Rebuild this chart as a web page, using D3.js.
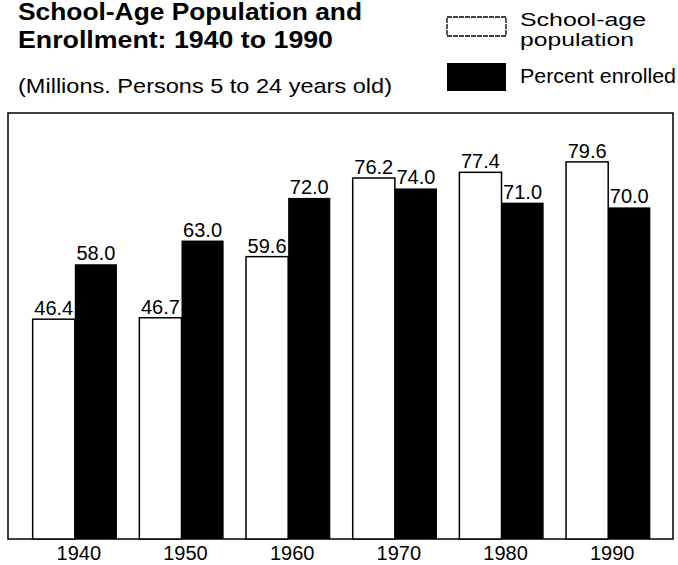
<!DOCTYPE html>
<html>
<head>
<meta charset="utf-8">
<script src="https://cdn.jsdelivr.net/npm/d3@7"></script>
<style>
body { margin: 0; background: #fff; }
svg { font-family: "Liberation Sans", Arial, Helvetica, sans-serif; }
</style>
</head>
<body>
<div id="c"></div>
<script>
var years = ['1940', '1950', '1960', '1970', '1980', '1990'];
var population = [46.4, 46.7, 59.6, 76.2, 77.4, 79.6];
var enrolled = [58.0, 63.0, 72.0, 74.0, 71.0, 70.0];
var series = ['population', 'enrolled'];

var width = 678;
var height = 565;

var frame_left = 8, frame_right = 673, frame_top = 113, base_y = 539;

var svg = d3.select('#c').append('svg')
	.attr('width', width)
	.attr('height', height);

var x_scale = d3.scaleBand()
	.domain(years)
	.range([22, 661])
	.paddingInner(0.21)
	.paddingOuter(0.1);

var x_inner = d3.scaleBand()
	.domain(series)
	.range([0, x_scale.bandwidth()]);

var y_scale = d3.scaleLinear()
	.domain([0, 80])
	.range([base_y, 160]);

// title block
svg.append('text')
	.attr('x', 18).attr('y', 20)
	.attr('font-size', 23).attr('font-weight', 'bold')
	.attr('textLength', 344).attr('lengthAdjust', 'spacingAndGlyphs')
	.text('School-Age Population and');

svg.append('text')
	.attr('x', 18).attr('y', 48)
	.attr('font-size', 23).attr('font-weight', 'bold')
	.attr('textLength', 315).attr('lengthAdjust', 'spacingAndGlyphs')
	.text('Enrollment:  1940 to 1990');

svg.append('text')
	.attr('x', 18).attr('y', 93)
	.attr('font-size', 21)
	.attr('textLength', 374).attr('lengthAdjust', 'spacingAndGlyphs')
	.text('(Millions. Persons 5 to 24 years old)');

// legend
var legend = svg.append('g');
legend.append('rect')
	.attr('x', 447).attr('y', 17).attr('width', 59).attr('height', 19)
	.attr('fill', '#fff').attr('stroke', '#000').attr('stroke-width', 1.3)
	.attr('stroke-dasharray', '5,1');
legend.append('rect')
	.attr('x', 447).attr('y', 63).attr('width', 59).attr('height', 28)
	.attr('fill', '#000');
legend.append('text').attr('x', 520).attr('y', 26).attr('font-size', 18)
	.attr('textLength', 126).attr('lengthAdjust', 'spacingAndGlyphs')
	.text('School-age');
legend.append('text').attr('x', 520).attr('y', 46).attr('font-size', 18)
	.attr('textLength', 114).attr('lengthAdjust', 'spacingAndGlyphs')
	.text('population');
legend.append('text').attr('x', 520).attr('y', 83).attr('font-size', 20)
	.attr('textLength', 156).attr('lengthAdjust', 'spacingAndGlyphs')
	.text('Percent enrolled');

// frame
svg.append('rect')
	.attr('x', frame_left).attr('y', frame_top)
	.attr('width', frame_right - frame_left)
	.attr('height', base_y - frame_top)
	.attr('fill', 'none').attr('stroke', '#000').attr('stroke-width', 1.5);

var rows = years.map(function(y, i) {
	return { year: y, population: population[i], enrolled: enrolled[i] };
});

var groups = svg.selectAll('.grp')
	.data(rows)
	.enter()
	.append('g')
	.attr('class', 'grp')
	.attr('transform', function(d) { return 'translate(' + x_scale(d.year) + ',0)'; });

groups.selectAll('rect')
	.data(function(d) { return series.map(function(s) { return { key: s, value: d[s] }; }); })
	.enter()
	.append('rect')
	.attr('x', function(d) { return x_inner(d.key); })
	.attr('y', function(d) { return y_scale(d.value); })
	.attr('width', x_inner.bandwidth())
	.attr('height', function(d) { return y_scale(0) - y_scale(d.value); })
	.attr('fill', function(d) { return d.key == 'enrolled' ? '#000' : '#fff'; })
	.attr('stroke', '#000')
	.attr('stroke-width', function(d) { return d.key == 'enrolled' ? 0 : 1.5; });

groups.selectAll('text')
	.data(function(d) { return series.map(function(s) { return { key: s, value: d[s] }; }); })
	.enter()
	.append('text')
	.attr('text-anchor', 'middle')
	.attr('x', function(d) { return x_inner(d.key) + x_inner.bandwidth() / 2; })
	.attr('y', function(d) { return y_scale(d.value) - 4; })
	.attr('font-size', 20)
	.text(function(d) { return d.value.toFixed(1); });

// year labels
svg.selectAll('.year')
	.data(years)
	.enter()
	.append('text')
	.attr('class', 'year')
	.attr('text-anchor', 'middle')
	.attr('x', function(d) { return x_scale(d) + x_scale.bandwidth() / 2 + 4; })
	.attr('y', 560)
	.attr('font-size', 20)
	.text(function(d) { return d; });
</script>
</body>
</html>
